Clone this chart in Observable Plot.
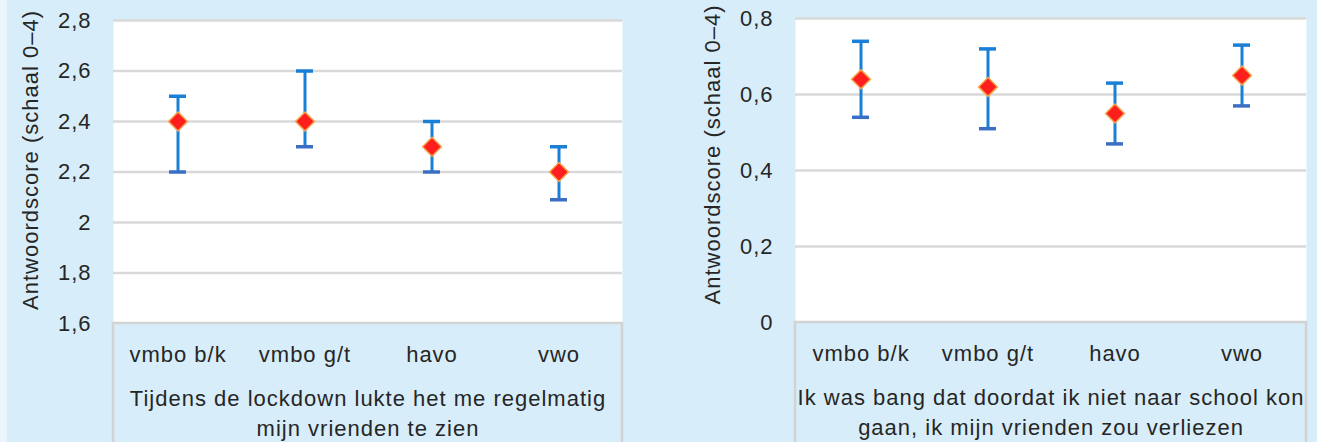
<!DOCTYPE html>
<html><head><meta charset="utf-8">
<script src="https://cdn.jsdelivr.net/npm/d3@7"></script>
<script src="https://cdn.jsdelivr.net/npm/@observablehq/plot@0.6"></script>
<style>
html,body{margin:0;padding:0;background:#d7edf9;}
#wrap{display:flex;width:1317px;height:442px;overflow:hidden;position:relative;}
#wrap svg{display:block;overflow:visible;}
#wrap svg text{letter-spacing:1px;}
#strip{position:absolute;left:0;top:0;width:7px;height:442px;background:#eaf5fc;}
</style></head><body><div id="wrap"><div id="strip"></div></div>
<script>
const categories = ["vmbo b/k", "vmbo g/t", "havo", "vwo"];
const leftMean = [2.4, 2.4, 2.3, 2.2];
const leftLow = [2.2, 2.3, 2.2, 2.09];
const leftHigh = [2.5, 2.6, 2.4, 2.3];
const leftTicks = [1.6, 1.8, 2, 2.2, 2.4, 2.6, 2.8];
const leftTitle = "Tijdens de lockdown lukte het me regelmatig\nmijn vrienden te zien";
const rightMean = [0.64, 0.62, 0.55, 0.65];
const rightLow = [0.54, 0.51, 0.47, 0.57];
const rightHigh = [0.74, 0.72, 0.63, 0.73];
const rightTicks = [0, 0.2, 0.4, 0.6, 0.8];
const rightTitle = "Ik was bang dat doordat ik niet naar school kon\ngaan, ik mijn vrienden zou verliezen";
const yLabel = "Antwoordscore (schaal 0–4)";

const BG = "#d7edf9";
const FONT = "'Liberation Sans', Arial, sans-serif";
const FS = 22;

function catBox(index, scales, values, dims) {
  const {width, height, marginLeft, marginRight, marginBottom} = dims;
  const g = d3.create("svg:g");
  g.append("rect")
    .attr("x", marginLeft).attr("y", height - marginBottom)
    .attr("width", width - marginLeft - marginRight).attr("height", marginBottom + 10)
    .attr("fill", BG).attr("stroke", "#d3d3d3").attr("stroke-width", 2.5);
  return g.node();
}

function panel({mean, low, high, ticks, title, width, mL, mR, mT, mB, domain, labelDy}) {
  const rows = categories.map((c, i) => ({cat: c, mean: mean[i], low: low[i], high: high[i]}));
  return Plot.plot({
    width, height: 442,
    marginLeft: mL, marginRight: mR, marginTop: mT, marginBottom: mB,
    style: {background: "transparent", color: "#262626", fontFamily: FONT, overflow: "visible"},
    x: {type: "band", domain: categories, padding: 0, label: null},
    y: {domain, label: null},
    marks: [
      Plot.frame({fill: "white", stroke: null}),
      Plot.gridY(ticks, {stroke: "#d9d9d9", strokeWidth: 2.5, strokeOpacity: 1}),
      catBox,
      Plot.axisY(ticks, {tickSize: 0, tickPadding: 22, fontSize: FS, label: null,
        tickFormat: d => String(d).replace(".", ",")}),
      Plot.axisX({tickSize: 0, tickPadding: 23, fontSize: FS, label: null}),
      Plot.text([yLabel], {frameAnchor: "left", text: d => d, rotate: -90, dx: -83, dy: labelDy,
        textAnchor: "middle", fontSize: FS, fill: "#262626"}),
      Plot.text([title], {frameAnchor: "bottom", text: d => d, lineAnchor: "top", dy: 61,
        fontSize: FS, lineHeight: 1.36, fill: "#262626"}),
      Plot.ruleX(rows, {x: "cat", y1: "low", y2: "high", stroke: "#1a7fd6", strokeWidth: 3}),
      Plot.tickY(rows, {x: "cat", y: "high", stroke: "#1a7fd6", strokeWidth: 3.5, inset: 55}),
      Plot.tickY(rows, {x: "cat", y: "low", stroke: "#3b6fc6", strokeWidth: 3.5, inset: 55}),
      Plot.dot(rows, {x: "cat", y: "mean", symbol: "diamond2", r: 8.5, fill: "#ff1e1e",
        stroke: "#f6a54a", strokeWidth: 1.5})
    ]
  });
}

const wrap = document.getElementById("wrap");
wrap.appendChild(panel({mean: leftMean, low: leftLow, high: leftHigh, ticks: leftTicks,
  title: leftTitle, width: 660, mL: 113, mR: 38, mT: 20, mB: 119, domain: [1.6, 2.8], labelDy: -12}));
wrap.appendChild(panel({mean: rightMean, low: rightLow, high: rightHigh, ticks: rightTicks,
  title: rightTitle, width: 657, mL: 135, mR: 11, mT: 18, mB: 120, domain: [0, 0.8], labelDy: -16}));
</script>
</body></html>
